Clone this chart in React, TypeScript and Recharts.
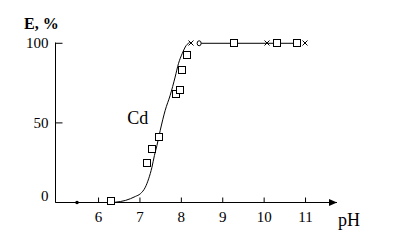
import React from 'react';
import { ComposedChart, Line, Scatter, XAxis, YAxis, ReferenceDot, Customized } from 'recharts';

// Fitted curve (Cd extraction)
const curvePH = [6.33, 6.41, 6.65, 6.89, 7.01, 7.13, 7.21, 7.29, 7.35, 7.41, 7.49, 7.61, 7.73, 7.85, 7.93, 8.02, 8.12, 8.2];
const curveE = [0, 0.2, 1.3, 3.8, 5.5, 9.6, 14.9, 22.2, 29.6, 35.8, 45.3, 57.9, 67.3, 78.8, 87.2, 93.5, 98.7, 100.5];

// Experimental points (open squares)
const squarePH = [6.29, 7.16, 7.3, 7.46, 7.88, 7.96, 8.02, 8.14, 9.26, 10.3, 10.8];
const squareE = [0.8, 24.7, 33.5, 41.1, 68.4, 70.4, 83.5, 92.6, 100, 100, 100];

// Cross markers
const crossPH = [8.23, 10.07, 10.99];
const crossE = [100, 100, 100];

// Small circle marker
const circlePH = [8.43];
const circleE = [100];

// Plateau line
const plateauPH = [8.43, 9.26, 10.07, 10.3, 10.8];
const plateauE = [100, 100, 100, 100, 100];

// Small dot on axis
const dotPH = [5.48];
const dotE = [0];

const xTicks = [6, 7, 8, 9, 10, 11];
const yTicks = [0, 50, 100];
const xDomain = [4.96, 11.76];
const yDomain = [0, 100];

const seriesLabel = 'Cd';
const seriesLabelPos = { pH: 6.95, E: 52.8 };
const xTitle = 'pH';
const yTitle = 'E, %';

const FONT = "'Liberation Serif', 'Times New Roman', serif";
const textStyle = { fontFamily: FONT };

const zip = (xs: number[], ys: number[]) => xs.map((x, i) => ({ pH: x, E: ys[i] }));

const curveData = zip(curvePH, curveE);
const squareData = zip(squarePH, squareE);
const crossData = zip(crossPH, crossE);
const circleData = zip(circlePH, circleE);
const plateauData = zip(plateauPH, plateauE);
const dotData = zip(dotPH, dotE);

const SquareShape = (p: any) => {
  const x = Math.round(p.cx) - 3.5;
  const y = Math.round(p.cy) - 3.5;
  return <rect x={x} y={y} width={7} height={7} fill="#fff" stroke="#000" strokeWidth={1} />;
};

const CrossShape = (p: any) => {
  const cx = Math.round(p.cx);
  const cy = Math.round(p.cy);
  return (
    <g stroke="#000" strokeWidth={1}>
      <line x1={cx - 2.5} y1={cy - 2.5} x2={cx + 2.5} y2={cy + 2.5} />
      <line x1={cx - 2.5} y1={cy + 2.5} x2={cx + 2.5} y2={cy - 2.5} />
    </g>
  );
};

const CircleShape = (p: any) => (
  <ellipse cx={p.cx} cy={p.cy} rx={2} ry={2.5} fill="#fff" stroke="#000" strokeWidth={1} />
);

const DotShape = (p: any) => <circle cx={p.cx} cy={p.cy} r={1.8} fill="#000" />;

const XTick = (p: any) => {
  const { x, y, payload } = p;
  return (
    <g>
      <line x1={x} x2={x} y1={y} y2={y - 5} stroke="#000" strokeWidth={1} />
      <text x={x} y={y + 19} textAnchor="middle" fontSize={15} style={textStyle} fill="#000">
        {payload.value}
      </text>
    </g>
  );
};

const YTick = (p: any) => {
  const { x, y, payload } = p;
  const dy = payload.value === 0 ? -2 : 5;
  return (
    <g>
      <line x1={x} x2={x + 7} y1={y} y2={y} stroke="#000" strokeWidth={1} />
      <text x={x - 7} y={y + dy} textAnchor="end" fontSize={15} style={textStyle} fill="#000">
        {payload.value}
      </text>
    </g>
  );
};

const ArrowHead = (p: any) => {
  const { cx, cy } = p;
  return <polygon points={`${cx},${cy} ${cx - 8},${cy - 3.5} ${cx - 8},${cy + 3.5}`} fill="#000" />;
};

const SeriesLabel = (p: any) => (
  <text x={p.cx} y={p.cy + 6} textAnchor="middle" fontSize={18} style={textStyle} fill="#000">
    {seriesLabel}
  </text>
);

const Titles = () => (
  <g>
    <text x={24} y={29} fontSize={16} fontWeight="bold" style={textStyle} fill="#000">
      {yTitle}
    </text>
    <text x={338} y={226} fontSize={18} style={textStyle} fill="#000">
      {xTitle}
    </text>
  </g>
);

export default function App() {
  return (
    <div style={{ position: 'absolute', left: 0, top: 0, width: 393, height: 242, background: '#fff', fontFamily: FONT }}>
      <ComposedChart
        width={393}
        height={242}
        margin={{ top: 42.5, right: 56, bottom: 9.5, left: 0 }}
        style={{ fontFamily: FONT }}
      >
        <XAxis
          type="number"
          dataKey="pH"
          domain={xDomain}
          ticks={xTicks}
          allowDataOverflow
          height={30}
          tickSize={0}
          tickMargin={0}
          tickLine={false}
          tick={XTick}
          axisLine={{ stroke: '#000', strokeWidth: 1 }}
        />
        <YAxis
          type="number"
          dataKey="E"
          domain={yDomain}
          ticks={yTicks}
          width={55.5}
          tickSize={0}
          tickMargin={0}
          tickLine={false}
          tick={YTick}
          axisLine={{ stroke: '#000', strokeWidth: 1 }}
        />
        <Line
          data={curveData}
          dataKey="E"
          type="monotone"
          stroke="#000"
          strokeWidth={1}
          dot={false}
          isAnimationActive={false}
        />
        <Line
          data={plateauData}
          dataKey="E"
          type="linear"
          stroke="#000"
          strokeWidth={1}
          dot={false}
          isAnimationActive={false}
        />
        <Scatter data={dotData} dataKey="E" shape={DotShape} isAnimationActive={false} />
        <Scatter data={squareData} dataKey="E" shape={SquareShape} isAnimationActive={false} />
        <Scatter data={crossData} dataKey="E" shape={CrossShape} isAnimationActive={false} />
        <Scatter data={circleData} dataKey="E" shape={CircleShape} isAnimationActive={false} />
        <ReferenceDot x={xDomain[1]} y={0} r={0} ifOverflow="visible" shape={ArrowHead} />
        <ReferenceDot x={seriesLabelPos.pH} y={seriesLabelPos.E} r={0} ifOverflow="visible" shape={SeriesLabel} />
        <Customized component={Titles} />
      </ComposedChart>
    </div>
  );
}
